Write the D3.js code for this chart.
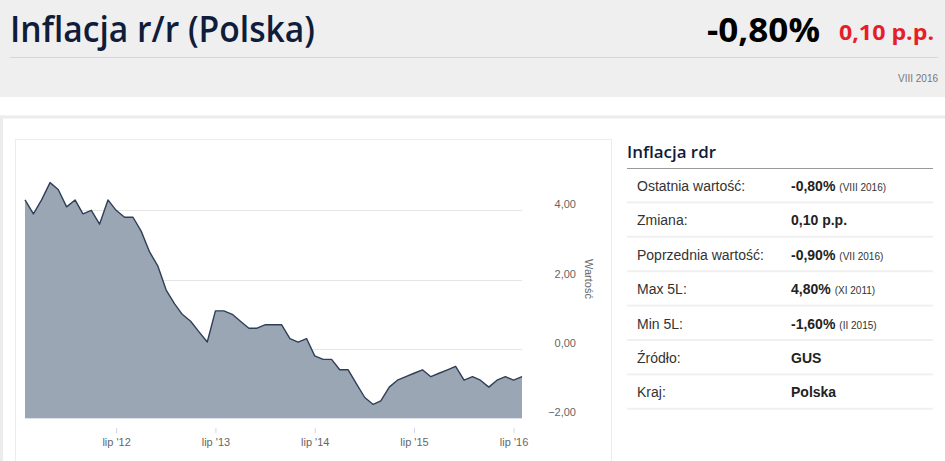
<!DOCTYPE html>
<html>
<head>
<meta charset="utf-8">
<script src="https://cdnjs.cloudflare.com/ajax/libs/d3/7.8.5/d3.min.js"></script>
<style>
  body { margin: 0; background: #fff; }
  svg { display: block; }
</style>
</head>
<body>
<div id="chart"></div>
<script>
//Monthly CPI y/y, Poland, VIII 2011 - VIII 2016
var months = [
  "2011-08","2011-09","2011-10","2011-11","2011-12",
  "2012-01","2012-02","2012-03","2012-04","2012-05","2012-06","2012-07","2012-08","2012-09","2012-10","2012-11","2012-12",
  "2013-01","2013-02","2013-03","2013-04","2013-05","2013-06","2013-07","2013-08","2013-09","2013-10","2013-11","2013-12",
  "2014-01","2014-02","2014-03","2014-04","2014-05","2014-06","2014-07","2014-08","2014-09","2014-10","2014-11","2014-12",
  "2015-01","2015-02","2015-03","2015-04","2015-05","2015-06","2015-07","2015-08","2015-09","2015-10","2015-11","2015-12",
  "2016-01","2016-02","2016-03","2016-04","2016-05","2016-06","2016-07","2016-08"
];
var inflation = [
  4.3, 3.9, 4.3, 4.8, 4.6,
  4.1, 4.3, 3.9, 4.0, 3.6, 4.3, 4.0, 3.8, 3.8, 3.4, 2.8, 2.4,
  1.7, 1.3, 1.0, 0.8, 0.5, 0.2, 1.1, 1.1, 1.0, 0.8, 0.6, 0.6,
  0.7, 0.7, 0.7, 0.3, 0.2, 0.3, -0.2, -0.3, -0.3, -0.6, -0.6, -1.0,
  -1.4, -1.6, -1.5, -1.1, -0.9, -0.8, -0.7, -0.6, -0.8, -0.7, -0.6, -0.5,
  -0.9, -0.8, -0.9, -1.1, -0.9, -0.8, -0.9, -0.8
];
var xTickMonths = ["2012-07", "2013-07", "2014-07", "2015-07", "2016-07"];
var yTicks = [-2, 0, 2, 4];

//info table
var rowLabels = ["Ostatnia wartość:", "Zmiana:", "Poprzednia wartość:", "Max 5L:", "Min 5L:", "Źródło:", "Kraj:"];
var rowValues = ["-0,80%", "0,10 p.p.", "-0,90%", "4,80%", "-1,60%", "GUS", "Polska"];
var rowNotes = ["(VIII 2016)", "", "(VII 2016)", "(XI 2011)", "(II 2015)", "", ""];

var svgWidth = 945;
var svgHeight = 461;

var svg = d3.select("#chart")
  .append("svg")
  .attr("width", svgWidth)
  .attr("height", svgHeight);

var parseMonth = d3.timeParse("%Y-%m");
var data = months.map(function(m, i) {
  return { date: parseMonth(m), value: inflation[i] };
});

var comma = function(v, n) { return d3.format("." + n + "f")(v).replace(".", ","); };

//////////////////////////////////////////////////////
//header
svg.append("rect")
  .attr("x", 0).attr("y", 0)
  .attr("width", svgWidth).attr("height", 97)
  .attr("fill", "#efefef");

svg.append("text")
  .attr("x", 10).attr("y", 42)
  .attr("font-family", "Open Sans, sans-serif")
  .attr("font-size", 36)
  .attr("font-weight", 600)
  .attr("fill", "#0f1c3a")
  .attr("textLength", 305)
  .attr("lengthAdjust", "spacingAndGlyphs")
  .text("Inflacja r/r (Polska)");

svg.append("line")
  .attr("x1", 10).attr("x2", 938)
  .attr("y1", 57.5).attr("y2", 57.5)
  .attr("stroke", "#d6d6d6");

svg.append("text")
  .attr("x", 820).attr("y", 42)
  .attr("text-anchor", "end")
  .attr("font-family", "Open Sans, sans-serif")
  .attr("font-size", 34)
  .attr("font-weight", 700)
  .attr("fill", "#000")
  .attr("textLength", 113)
  .attr("lengthAdjust", "spacingAndGlyphs")
  .text(rowValues[0]);

svg.append("text")
  .attr("x", 934).attr("y", 40)
  .attr("text-anchor", "end")
  .attr("font-family", "Open Sans, sans-serif")
  .attr("font-size", 21)
  .attr("font-weight", 700)
  .attr("fill", "#e61e28")
  .attr("textLength", 95)
  .attr("lengthAdjust", "spacingAndGlyphs")
  .text(rowValues[1]);

svg.append("text")
  .attr("x", 938).attr("y", 81.5)
  .attr("text-anchor", "end")
  .attr("font-family", "Liberation Sans, Arial, sans-serif")
  .attr("font-size", 10)
  .attr("fill", "#777")
  .text("VIII 2016");

//panel frame
svg.append("rect")
  .attr("x", 0).attr("y", 115.5)
  .attr("width", svgWidth).attr("height", 3)
  .attr("fill", "#ececec");
svg.append("rect")
  .attr("x", 0).attr("y", 115.5)
  .attr("width", 3).attr("height", svgHeight)
  .attr("fill", "#ececec");

//chart box
svg.append("rect")
  .attr("x", 15.5).attr("y", 139.5)
  .attr("width", 596).attr("height", 340)
  .attr("fill", "#fff")
  .attr("stroke", "#ececec");

//////////////////////////////////////////////////////
//scales
var xScale = d3.scaleTime()
  .domain(d3.extent(data, d => d.date))
  .range([25, 522]);

var yScale = d3.scaleLinear()
  .domain([-2, 6])
  .range([418.3, 141]);

//grid lines
svg.append("g")
  .selectAll("line")
  .data(yTicks.filter(t => t > -2))
  .enter()
  .append("line")
  .attr("x1", 25).attr("x2", 522)
  .attr("y1", d => Math.round(yScale(d)) + 0.5)
  .attr("y2", d => Math.round(yScale(d)) + 0.5)
  .attr("stroke", "#e6e6e6");

//area + line
var area = d3.area()
  .x(d => xScale(d.date))
  .y0(yScale(-2))
  .y1(d => yScale(d.value));

var line = d3.line()
  .x(d => xScale(d.date))
  .y(d => yScale(d.value));

svg.append("path")
  .datum(data)
  .attr("d", area)
  .attr("fill", "#9aa6b4");

svg.append("path")
  .datum(data)
  .attr("d", line)
  .attr("fill", "none")
  .attr("stroke", "#2f3f58")
  .attr("stroke-width", 1.4)
  .attr("stroke-linejoin", "round");

//x axis baseline
svg.append("line")
  .attr("x1", 25).attr("x2", 522)
  .attr("y1", 418.5).attr("y2", 418.5)
  .attr("stroke", "#dde2ea");

//x axis
var bottomAxis = d3.axisBottom(xScale)
  .tickValues(xTickMonths.map(parseMonth))
  .tickSize(5)
  .tickPadding(5)
  .tickFormat(d3.timeFormat("lip '%y"));

var xAxis = svg.append("g")
  .attr("transform", "translate(0, 428)")
  .call(bottomAxis);
xAxis.select(".domain").remove();
xAxis.selectAll(".tick line").attr("stroke", "#ccd6eb");
xAxis.selectAll(".tick text")
  .attr("font-family", "Liberation Sans, Arial, sans-serif")
  .attr("font-size", 11)
  .attr("fill", "#666");

//y axis on the right
var rightAxis = d3.axisRight(yScale)
  .tickValues(yTicks)
  .tickSize(0)
  .tickFormat(d => comma(d, 2));

var yAxis = svg.append("g")
  .attr("transform", "translate(576, -6)")
  .call(rightAxis);
yAxis.select(".domain").remove();
yAxis.selectAll(".tick text")
  .attr("x", 0)
  .attr("text-anchor", "end")
  .attr("font-family", "Liberation Sans, Arial, sans-serif")
  .attr("font-size", 11)
  .attr("fill", "#666");

svg.append("text")
  .attr("transform", "translate(585, 279) rotate(90)")
  .attr("text-anchor", "middle")
  .attr("font-family", "Liberation Sans, Arial, sans-serif")
  .attr("font-size", 11)
  .attr("fill", "#666")
  .text("Wartość");

//////////////////////////////////////////////////////
//info table
svg.append("text")
  .attr("x", 627).attr("y", 158)
  .attr("font-family", "Open Sans, sans-serif")
  .attr("font-size", 17)
  .attr("font-weight", 600)
  .attr("fill", "#0f1c3a")
  .attr("textLength", 89)
  .attr("lengthAdjust", "spacingAndGlyphs")
  .text("Inflacja rdr");

svg.append("line")
  .attr("x1", 627).attr("x2", 933)
  .attr("y1", 168.5).attr("y2", 168.5)
  .attr("stroke", "#9a9a9a");

var rowH = 34.4;
var rows = svg.append("g")
  .selectAll("g")
  .data(rowLabels)
  .enter()
  .append("g")
  .attr("transform", (d, i) => `translate(0, ${168.5 + i * rowH})`);

rows.append("rect")
  .attr("x", 627).attr("y", rowH - 1.5)
  .attr("width", 306).attr("height", 2)
  .attr("fill", "#f0f0f0");

rows.append("text")
  .attr("x", 637).attr("y", 22.5)
  .attr("font-family", "Liberation Sans, Arial, sans-serif")
  .attr("font-size", 14)
  .attr("fill", "#333")
  .text(d => d);

var valText = rows.append("text")
  .attr("x", 791).attr("y", 22.5)
  .attr("font-family", "Liberation Sans, Arial, sans-serif")
  .attr("fill", "#222");

valText.append("tspan")
  .attr("font-size", 14)
  .attr("font-weight", 700)
  .text((d, i) => rowValues[i]);

valText.append("tspan")
  .attr("font-size", 10)
  .attr("fill", "#333")
  .attr("dx", 4)
  .text((d, i) => rowNotes[i]);
</script>
</body>
</html>
